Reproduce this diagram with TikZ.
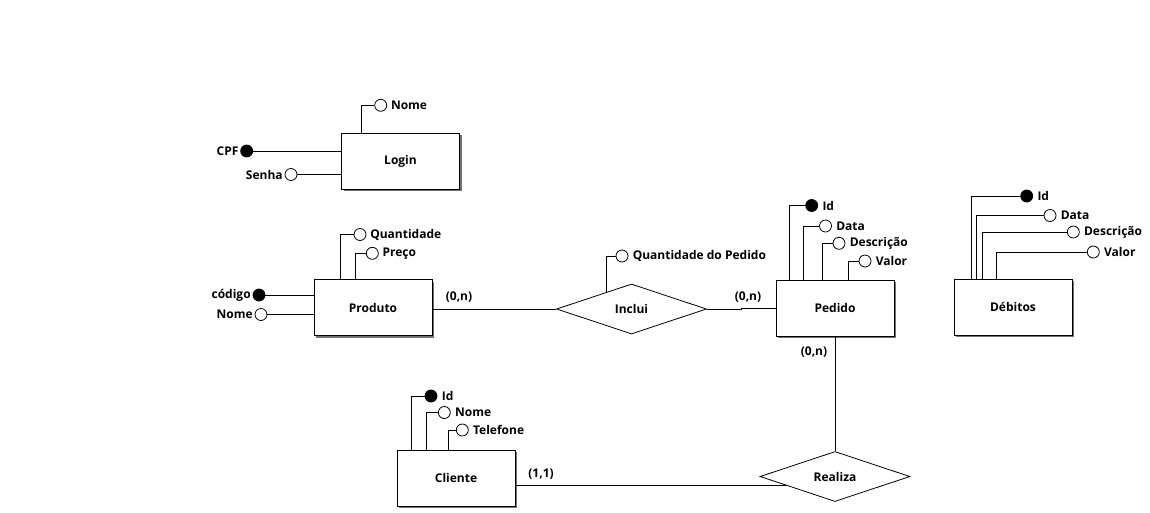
\documentclass[tikz,border=0pt]{standalone}
\usepackage{fontspec}
\setmainfont{Open Sans}
\usetikzlibrary{shapes.geometric,shadows,calc}
\newcommand\erfont{\bfseries\fontsize{12}{14}\selectfont}
\tikzset{
  ent/.style={draw, fill=white, minimum width=118pt, minimum height=56pt, inner sep=0pt,
    font=\erfont, drop shadow={shadow xshift=2pt, shadow yshift=-2pt, fill=black!55, opacity=1}},
  rel/.style={draw, diamond, minimum width=150pt, minimum height=50pt, inner sep=0pt, aspect=3, font=\erfont, fill=white},
  att/.style={draw, circle, fill=white, minimum size=12pt, inner sep=0pt},
  key/.style={draw, circle, fill=black, minimum size=12pt, inner sep=0pt},
  lbl/.style={font=\erfont, inner sep=1pt},
  card/.style={font=\erfont, inner sep=0pt},
}
\begin{document}
\begin{tikzpicture}[x=1pt,y=-1pt, line width=0.8pt]
\useasboundingbox (0,0) rectangle (1150,512);
% Entities
\node[ent] (login) at (400.5,161) {Login};
\node[ent] (produto) at (373,307.5) {Produto};
\node[ent] (pedido) at (835,308) {Pedido};
\node[ent] (debitos) at (1013,307) {Débitos};
\node[ent] (cliente) at (456,478) {Cliente};
% Relationships
\node[rel] (inclui) at (631.5,309) {Inclui};
\node[rel] (realiza) at (835,476.5) {Realiza};
% Login attributes
\node[att, label={[lbl,label distance=2.5pt]right:Nome}] (lnome) at (380.7,105.3) {};
\node[key, label={[lbl,label distance=0.5pt]left:CPF}] (lcpf) at (246.7,151) {};
\node[att, label={[lbl,label distance=0.5pt]left:Senha}] (lsenha) at (291,174.5) {};
\draw ($(login.north west)+(20.6,0)$) |- (lnome);
\draw (lcpf) -- (lcpf -| login.west);
\draw (lsenha) -- (lsenha -| login.west);
% Produto attributes
\node[att, label={[lbl,label distance=2.5pt]right:Quantidade}] (pqtd) at (360,234.5) {};
\node[att, label={[lbl,label distance=2.5pt]right:Preço}] (ppreco) at (372.3,253.3) {};
\node[key, label={[lbl,label distance=0.5pt]left:código}] (pcod) at (259,295) {};
\node[att, label={[lbl,label distance=0.5pt]left:Nome}] (pnome) at (261,314.5) {};
\draw ($(produto.north west)+(26.5,0)$) |- (pqtd);
\draw ($(produto.north west)+(42,0)$) |- (ppreco);
\draw (pcod) -- (pcod -| produto.west);
\draw (pnome) -- (pnome -| produto.west);
% Inclui attribute
\node[att, label={[lbl,label distance=3pt]right:Quantidade do Pedido}] (iqtd) at (622,256) {};
\draw ($(inclui.north)+(-25,8.4)$) |- (iqtd);
% Pedido attributes
\node[key, label={[lbl,label distance=3pt]right:Id}] (pdid) at (811.7,205.5) {};
\node[att, label={[lbl,label distance=3pt]right:Data}] (pddata) at (825.5,226) {};
\node[att, label={[lbl,label distance=3pt]right:Descrição}] (pddesc) at (839,243.3) {};
\node[att, label={[lbl,label distance=3pt]right:Valor}] (pdvalor) at (865,261) {};
\draw ($(pedido.north west)+(14,0)$) |- (pdid);
\draw ($(pedido.north west)+(28,0)$) |- (pddata);
\draw ($(pedido.north west)+(47,0)$) |- (pddesc);
\draw ($(pedido.north west)+(73,0)$) |- (pdvalor);
% Debitos attributes
\node[key, label={[lbl,label distance=3pt]right:Id}] (did) at (1026.7,196) {};
\node[att, label={[lbl,label distance=3pt]right:Data}] (ddata) at (1050,215.5) {};
\node[att, label={[lbl,label distance=3pt]right:Descrição}] (ddesc) at (1073.3,232) {};
\node[att, label={[lbl,label distance=3pt]right:Valor}] (dvalor) at (1093.3,252) {};
\draw ($(debitos.north west)+(18,0)$) |- (did);
\draw ($(debitos.north west)+(22.6,0)$) |- (ddata);
\draw ($(debitos.north west)+(28.6,0)$) |- (ddesc);
\draw ($(debitos.north west)+(42.3,0)$) |- (dvalor);
% Cliente attributes
\node[key, label={[lbl,label distance=3pt]right:Id}] (cid) at (431,396) {};
\node[att, label={[lbl,label distance=3pt]right:Nome}] (cnome) at (444.3,412.5) {};
\node[att, label={[lbl,label distance=3pt]right:Telefone}] (ctel) at (462.3,430) {};
\draw ($(cliente.north west)+(14.7,0)$) |- (cid);
\draw ($(cliente.north west)+(30,0)$) |- (cnome);
\draw ($(cliente.north west)+(51.3,0)$) |- (ctel);
% Relationship connectors
\draw (produto.east |- inclui.west) -- (inclui.west);
\draw (inclui.east) -- ++(34,0) |- (pedido.west);
\draw (pedido.south) -- (realiza.north);
\draw (cliente.east |- realiza.190) -- (realiza.190);
% Cardinalities
\node[card] (c1) at (459,297) {(0,n)};
\node[card] (c2) at (748,297.5) {(0,n)};
\node[card] (c3) at (814,352) {(0,n)};
\node[card] (c4) at (541,474.5) {(1,1)};
\end{tikzpicture}
\end{document}
